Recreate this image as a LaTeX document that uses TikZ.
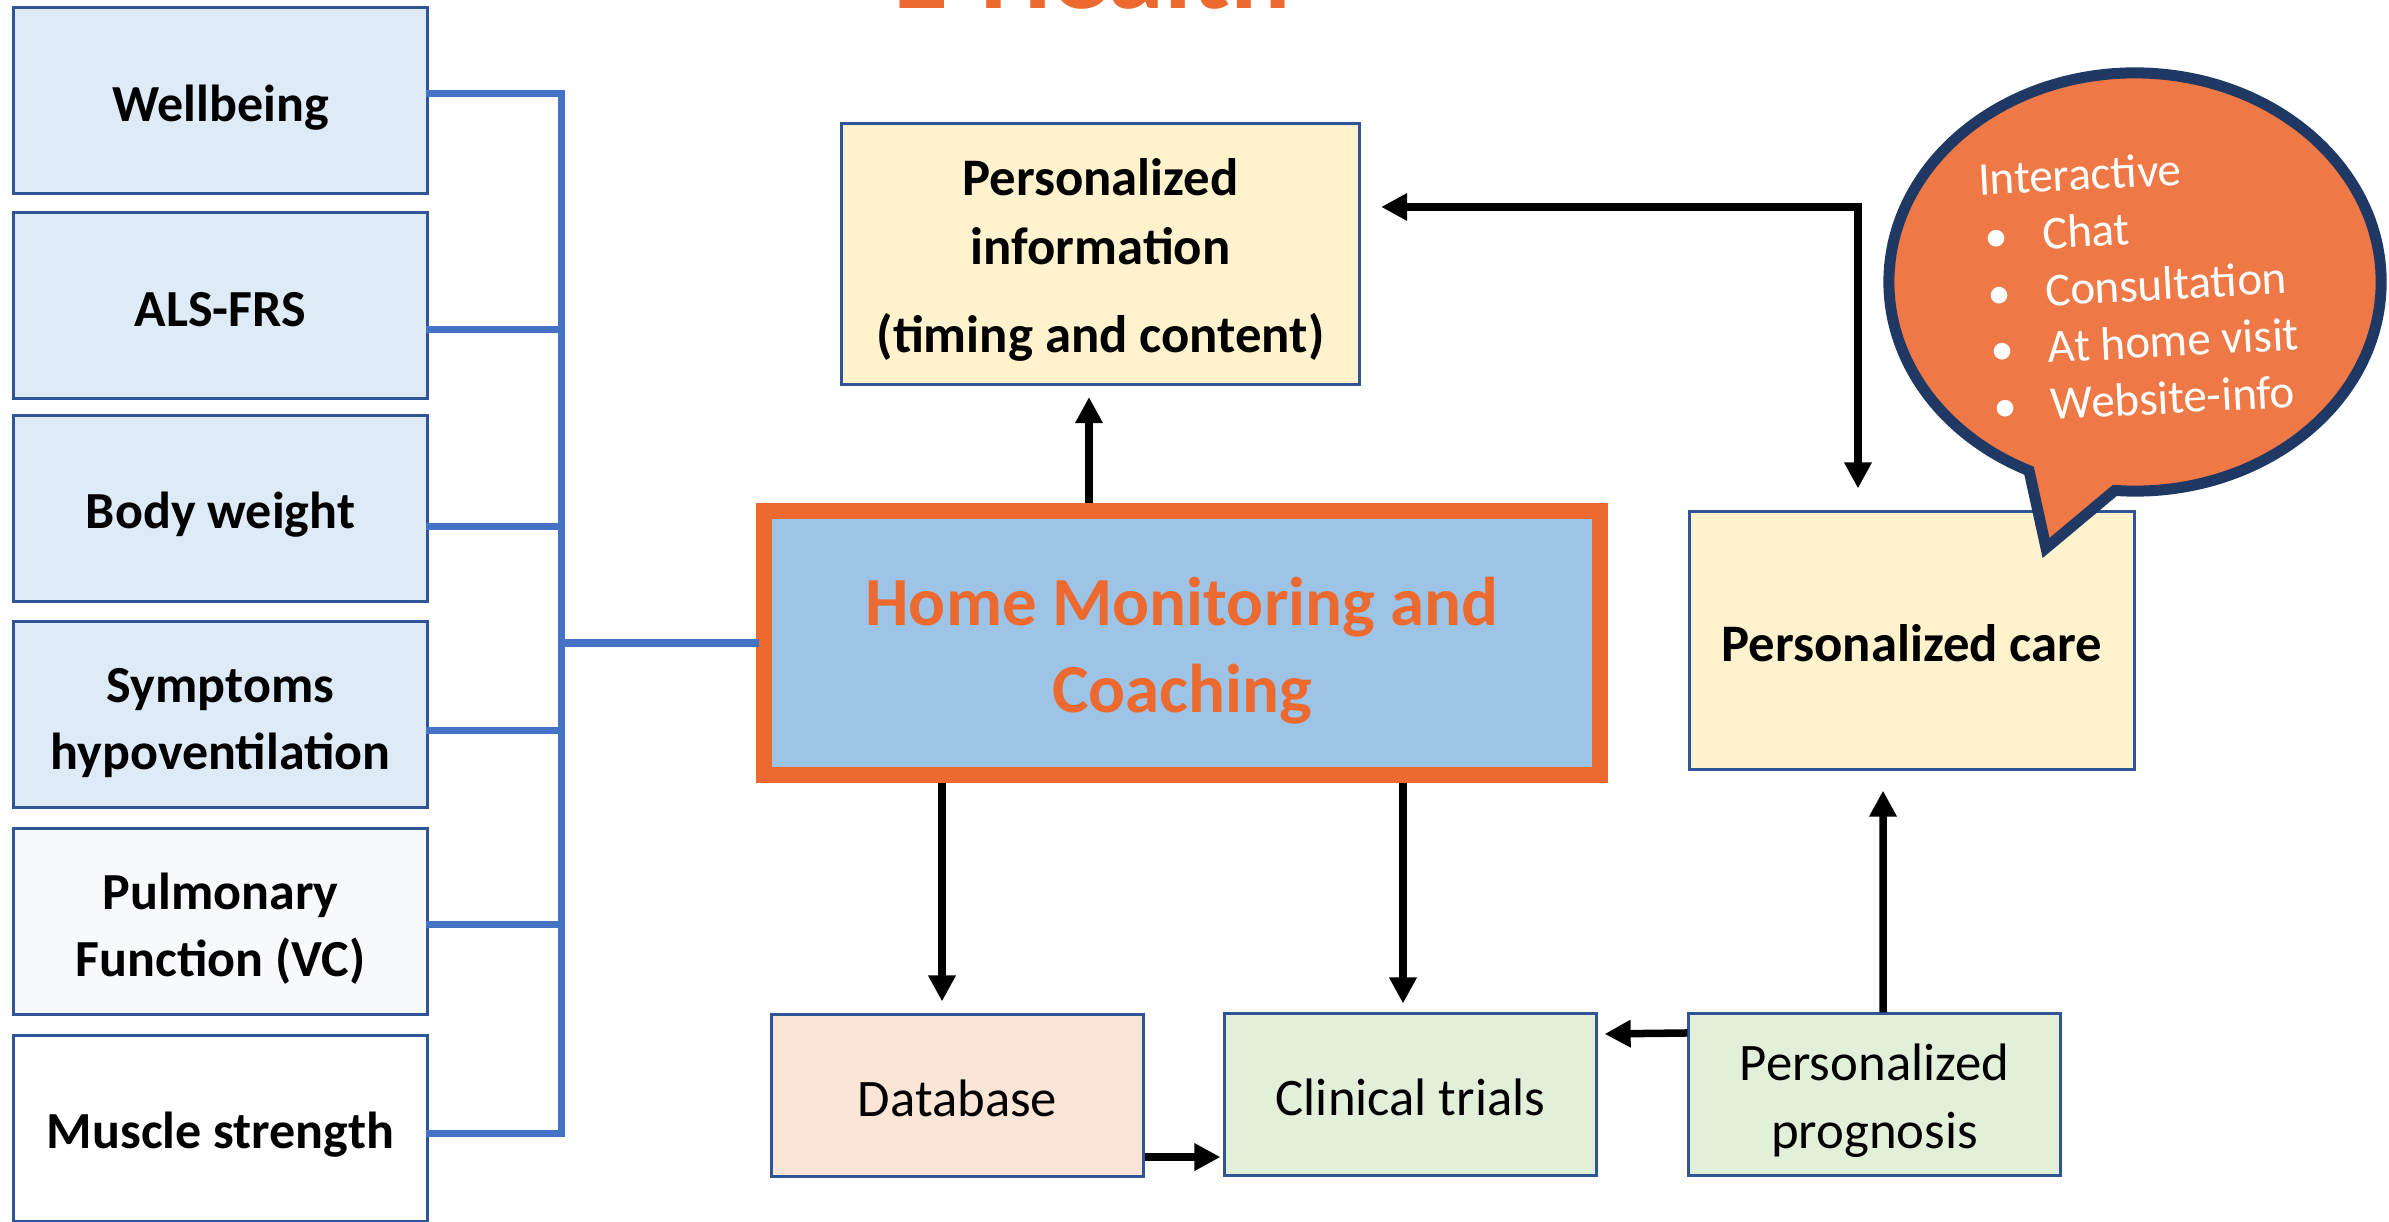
\documentclass[tikz,border=0pt]{standalone}
\usepackage{fontspec}
\setmainfont{Carlito}
\usetikzlibrary{arrows.meta}
\definecolor{bluefill}{HTML}{DEEBF7}
\definecolor{palefill}{HTML}{F7F9FD}
\definecolor{boxline}{HTML}{2F5597}
\definecolor{busblue}{HTML}{4472C4}
\definecolor{hmfill}{HTML}{9DC3E6}
\definecolor{hmorange}{HTML}{EC6A30}
\definecolor{yelfill}{HTML}{FFF2CC}
\definecolor{peach}{HTML}{FBE5D6}
\definecolor{greenfill}{HTML}{E2F0D9}
\definecolor{bubblefill}{HTML}{EE7846}
\definecolor{bubbleline}{HTML}{203864}
\newcommand\bitem{\makebox[0.61cm][l]{\hspace{0.03cm}\textbullet}}
\begin{document}
\begin{tikzpicture}[x=0.01cm,y=-0.01cm,
  leftbox/.style={draw=boxline, line width=0.03cm, minimum width=4.14cm, minimum height=1.86cm, inner sep=0pt},
  lefttext/.style={inner sep=0pt, align=center, font=\bfseries\fontsize{14.8}{19}\selectfont},
  flowbox/.style={draw=boxline, line width=0.03cm, inner sep=0pt},
  boldtext/.style={inner sep=0pt, align=center, font=\bfseries\fontsize{15}{19.6}\selectfont},
  plaintext/.style={inner sep=0pt, align=center, font=\fontsize{15}{19.3}\selectfont},
  bus/.style={draw=busblue, line width=0.07cm, line cap=rect},
  arr/.style={line width=0.075cm, -{Triangle[length=0.26cm,width=0.26cm]}},
  arrboth/.style={line width=0.075cm, {Triangle[length=0.26cm,width=0.26cm]}-{Triangle[length=0.26cm,width=0.26cm]}}
]
\useasboundingbox (0,0) rectangle (2389,1222);

% title (cut off at the top, as in the reference)
\node[font=\bfseries\fontsize{32}{38}\selectfont, text=hmorange, anchor=base west, inner sep=0pt] (title) at (893,9) {E-Health};

% left column
\node[leftbox, fill=bluefill] (b1) at (220.5,100.5) {};
\node[leftbox, fill=bluefill] (b2) at (220.5,305.5) {};
\node[leftbox, fill=bluefill] (b3) at (220.5,508.5) {};
\node[leftbox, fill=bluefill] (b4) at (220.5,714.5) {};
\node[leftbox, fill=palefill] (b5) at (220.5,921.5) {};
\node[leftbox, fill=white] (b6) at (220.5,1128.5) {};
\node[lefttext] (t1) at ([yshift=-0.075cm]b1.center) {Wellbeing};
\node[lefttext] (t2) at ([yshift=-0.04cm]b2.center) {ALS-FRS};
\node[lefttext] (t3) at ([yshift=-0.065cm]b3.center) {Body weight};
\node[lefttext] (t4) at ([yshift=-0.085cm]b4.center) {Symptoms\\hypoventilation};
\node[lefttext] (t5) at ([yshift=-0.07cm]b5.center) {Pulmonary\\Function (VC)};
\node[lefttext] (t6) at ([yshift=-0.06cm]b6.center) {Muscle strength};

% central box
\node[draw=hmorange, line width=0.16cm, fill=hmfill, minimum width=8.36cm, minimum height=2.64cm, inner sep=0pt]
  (hm) at (1182,643) {};
\node[inner sep=0pt, align=center, text=hmorange, font=\bfseries\fontsize{19.6}{24.7}\selectfont]
  (hmtext) at ([yshift=-0.075cm]hm.center) {Home Monitoring and\\Coaching};

% bus connectors
\draw[bus] ([yshift=0.065cm]b1.east) -- ++(132,0) coordinate (c1);
\draw[bus] ([yshift=-0.235cm]b2.east) -- ++(132,0) coordinate (c2);
\draw[bus] ([yshift=-0.175cm]b3.east) -- ++(132,0) coordinate (c3);
\draw[bus] ([yshift=-0.155cm]b4.east) -- ++(132,0) coordinate (c4);
\draw[bus] ([yshift=-0.025cm]b5.east) -- ++(132,0) coordinate (c5);
\draw[bus] ([yshift=-0.045cm]b6.east) -- ++(132,0) coordinate (c6);
\draw[bus] (c1) -- (c6);
\draw[bus] (c1 |- hm.west) -- (hm.west);

% other boxes
\node[flowbox, fill=yelfill, minimum width=5.18cm, minimum height=2.61cm] (info) at (1100.5,254) {};
\node[boldtext] (infotext) at ([yshift=-0.06cm]info.center) {Personalized\\information\\[0.19cm](timing and content)};
\node[flowbox, fill=yelfill, minimum width=4.44cm, minimum height=2.57cm] (care) at (1912,640.5) {};
\node[boldtext] (caretext) at ([yshift=-0.03cm]care.center) {Personalized care};
\node[flowbox, fill=peach, minimum width=3.71cm, minimum height=1.61cm] (db) at (957.5,1095.5) {};
\node[plaintext] (dbtext) at ([yshift=-0.03cm]db.center) {Database};
\node[flowbox, fill=greenfill, minimum width=3.71cm, minimum height=1.61cm] (ct) at (1410.5,1094.5) {};
\node[plaintext] (cttext) at ([yshift=-0.03cm]ct.center) {Clinical trials};
\node[flowbox, fill=greenfill, minimum width=3.71cm, minimum height=1.61cm] (pp) at (1874.5,1094.5) {};
\node[plaintext] (pptext) at ([yshift=-0.06cm]pp.center) {Personalized\\prognosis};

% arrows
\draw[arr] ([xshift=-0.115cm]info.south |- hm.north) -- ([shift={(-0.115cm,-0.11cm)}]info.south);
\draw[arrboth] ([shift={(0.2cm,0.47cm)}]info.east) -| ([shift={(-0.54cm,0.22cm)}]care.north);
\draw[arr] ([xshift=-0.155cm]db.north |- hm.south) -- ([shift={(-0.155cm,0.12cm)}]db.north);
\draw[arr] ([xshift=-0.075cm]ct.north |- hm.south) -- ([shift={(-0.075cm,0.09cm)}]ct.north);
\draw[arr] ([yshift=-0.615cm]db.east) -- ([shift={(-0.03cm,-0.625cm)}]ct.west);
\draw[arr] ([yshift=0.615cm]pp.west) -- ([shift={(0.07cm,0.605cm)}]ct.east);
\draw[arr] ([xshift=0.085cm]pp.north) -- ([shift={(-0.29cm,-0.2cm)}]care.south);

% speech bubble
\draw[fill=bubblefill, draw=bubbleline, line width=0.11cm, line join=miter]
  ([shift={(-94.7:2.46cm and 2.09cm)}]2135,282)
  arc[start angle=-94.7, end angle=244.5, x radius=2.46cm, y radius=2.09cm]
  -- (2046,548) -- cycle;
\node[rotate=3, text=white, font=\fontsize{13.4}{16.2}\selectfont, align=left, inner sep=0pt]
  (bubtext) at (2140,285)
  {Interactive\\\bitem Chat\\\bitem Consultation\\\bitem At home visit\\\bitem Website-info};
\end{tikzpicture}
\end{document}
